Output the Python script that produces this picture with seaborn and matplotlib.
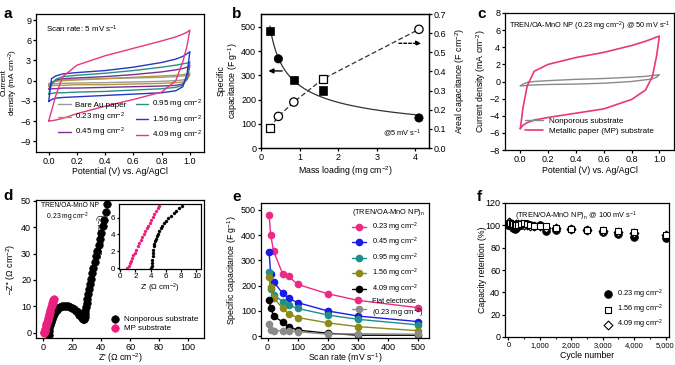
import numpy as np
import pandas as pd
import matplotlib
matplotlib.use("Agg")
import matplotlib.pyplot as plt
from matplotlib.ticker import FuncFormatter, MultipleLocator
import seaborn as sns

# ---------------- data ----------------
# panel a: CV at 5 mV/s (forward branch on cv_grid, reverse branch on reversed grid)
cv_grid = [0.0, 0.02, 0.05, 0.1, 0.2, 0.4, 0.6, 0.8, 0.9, 0.95, 0.98, 1.0]
a_labels = ["Bare Au paper", "0.23 mg cm$^{-2}$", "0.45 mg cm$^{-2}$",
            "0.95 mg cm$^{-2}$", "1.56 mg cm$^{-2}$", "4.09 mg cm$^{-2}$"]
a_fwd_bare = [-0.5, -0.2, 0.0, 0.1, 0.2, 0.3, 0.4, 0.5, 0.6, 0.7, 0.75, 0.8]
a_rev_bare = [-0.5, -0.5, -0.45, -0.4, -0.35, -0.3, -0.2, -0.1, 0.0, 0.1, 0.3, 0.8]
a_fwd_023 = [-0.8, -0.3, -0.1, 0.0, 0.1, 0.3, 0.5, 0.7, 0.8, 0.9, 1.0, 1.1]
a_rev_023 = [-0.8, -0.75, -0.7, -0.7, -0.6, -0.6, -0.5, -0.4, -0.3, -0.2, 0.2, 1.1]
a_fwd_045 = [-1.3, -0.4, 0.1, 0.3, 0.4, 0.6, 0.9, 1.3, 1.6, 1.8, 2.0, 2.3]
a_rev_045 = [-1.3, -1.2, -1.2, -1.1, -1.1, -1.0, -0.9, -0.8, -0.7, -0.5, 0.2, 2.3]
a_fwd_095 = [-2.0, -0.6, 0.2, 0.6, 0.8, 1.1, 1.5, 2.0, 2.3, 2.5, 2.6, 2.8]
a_rev_095 = [-2.0, -1.9, -1.8, -1.8, -1.7, -1.6, -1.4, -1.2, -1.0, -0.7, 0.5, 2.8]
a_fwd_156 = [-3.1, 0.3, 0.7, 1.0, 1.2, 1.5, 2.0, 2.7, 3.2, 3.6, 4.0, 4.3]
a_rev_156 = [-3.1, -2.8, -2.6, -2.5, -2.4, -2.2, -2.0, -1.8, -1.5, -0.9, 1.0, 4.3]
a_fwd_409 = [-6.0, -4.5, -2.2, 0.6, 2.3, 3.7, 4.8, 5.9, 6.5, 6.9, 7.2, 7.5]
a_rev_409 = [-6.0, -5.95, -5.85, -5.6, -4.9, -3.8, -2.8, -1.7, 0.0, 2.8, 5.2, 7.5]
a_colors = ["#9a9a9a", "#b09a3c", "#7a2f95", "#2b8f7f", "#2437c8", "#e8377f"]

# panel b
b_mass = [0.23, 0.45, 0.85, 1.6, 4.09]
b_spec = [482, 368, 282, 237, 124]
b_spec_err = [12, 8, 10, 12, 5]
b_spec_marker = ["s", "o", "s", "s", "o"]
b_areal = [0.105, 0.165, 0.24, 0.36, 0.62]
b_areal_err = [0.008, 0.006, 0.008, 0.012, 0.005]
b_areal_marker = ["s", "o", "o", "s", "o"]

# panel c: CV at 50 mV/s
c_fwd_np = [-0.5, -0.3, -0.1, 0.0, 0.1, 0.25, 0.35, 0.5, 0.6, 0.7, 0.75, 0.8]
c_rev_np = [-0.5, -0.5, -0.45, -0.4, -0.35, -0.3, -0.2, 0.0, 0.2, 0.3, 0.5, 0.8]
c_fwd_mp = [-5.5, -3.0, -0.5, 1.2, 2.0, 2.8, 3.4, 4.2, 4.7, 5.0, 5.2, 5.3]
c_rev_mp = [-5.5, -5.1, -4.8, -4.5, -4.2, -3.7, -3.2, -2.1, -1.0, 0.6, 3.0, 5.3]

# panel d: Nyquist
d_np_re = [3.8, 4.0, 4.3, 4.7, 5.2, 5.8, 6.5, 7.3, 8.2, 9.2, 10.3, 11.5, 12.8, 14.1,
           15.5, 17.0, 18.5, 20.0, 21.4, 22.7, 23.9, 25.0, 25.9, 26.7, 27.3, 27.8,
           28.2, 28.5, 28.8, 29.1, 29.5, 30.0, 30.5, 31.1, 31.7, 32.4, 33.1, 33.9,
           34.7, 35.5, 36.4, 37.3, 38.2, 39.2, 40.2, 41.2, 42.2, 43.2, 44.0]
d_np_im = [-0.8, 0.5, 1.8, 3.0, 4.2, 5.3, 6.3, 7.2, 8.0, 8.7, 9.3, 9.7, 10.0, 10.2,
           10.2, 10.1, 9.9, 9.5, 9.0, 8.4, 7.7, 6.9, 6.2, 5.6, 5.2, 5.1,
           5.3, 6.0, 7.0, 8.2, 9.6, 11.2, 12.8, 14.6, 16.4, 18.4, 20.4, 22.5,
           24.6, 26.7, 28.9, 31.1, 33.3, 35.6, 37.9, 40.3, 42.9, 45.8, 48.8]
d_mp_re = [0.3, 0.6, 1.0, 1.4, 1.8, 2.2, 2.6, 3.0, 3.4, 3.8, 4.2, 4.6, 5.0, 5.4,
           5.8, 6.2, 6.6, 7.0, 7.4]
d_mp_im = [0.0, 0.3, 0.8, 1.6, 2.4, 3.2, 4.0, 4.8, 5.6, 6.4, 7.2, 8.0, 8.8, 9.6,
           10.4, 11.1, 11.8, 12.4, 12.9]
d_in_np_re = [4.1, 4.13, 4.16, 4.2, 4.25, 4.3, 4.36, 4.43, 4.5, 4.6, 4.7, 4.82, 4.95,
              5.1, 5.3, 5.5, 5.75, 6.0, 6.3, 6.65, 7.0, 7.35, 7.75, 8.1]
d_in_np_im = [0.0, 0.3, 0.6, 1.0, 1.4, 1.8, 2.2, 2.6, 2.9, 3.2, 3.5, 3.8, 4.1,
              4.4, 4.7, 5.0, 5.3, 5.6, 5.9, 6.2, 6.5, 6.8, 7.1, 7.4]
d_in_mp_re = [0.95, 1.1, 1.25, 1.4, 1.55, 1.7, 1.9, 2.1, 2.3, 2.5, 2.7, 2.9, 3.1,
              3.3, 3.5, 3.7, 3.9, 4.1, 4.3, 4.5, 4.7, 4.9, 5.1]
d_in_mp_im = [0.0, 0.3, 0.6, 0.9, 1.2, 1.5, 1.8, 2.2, 2.6, 3.0, 3.35, 3.7, 4.0,
              4.35, 4.7, 5.05, 5.4, 5.75, 6.1, 6.45, 6.8, 7.1, 7.4]

# panel e
e_rate = [5, 10, 20, 50, 70, 100, 200, 300, 500]
e_labels = ["0.23 mg cm$^{-2}$", "0.45 mg cm$^{-2}$", "0.95 mg cm$^{-2}$",
            "1.56 mg cm$^{-2}$", "4.09 mg cm$^{-2}$", "Flat electrode\n(0.23 mg cm$^{-2}$)"]
e_023 = [480, 402, 336, 247, 237, 205, 168, 142, 113]
e_045 = [333, 248, 215, 170, 150, 133, 100, 80, 58]
e_095 = [255, 185, 165, 137, 123, 110, 84, 67, 45]
e_156 = [233, 194, 152, 110, 88, 74, 53, 38, 22]
e_409 = [145, 113, 80, 56, 38, 24, 12, 4, 4]
e_flat = [50, 24, 22, 22, 20, 18, 8, 10, 8]
e_colors = ["#ec2a84", "#1a1ae6", "#1f8f8a", "#8c8a1a", "#000000", "#8a8a8a"]

# panel f
f_cycle = [0, 25, 50, 100, 150, 200, 250, 300, 400, 500, 600, 700, 800, 1000,
           1200, 1500, 2000, 2500, 3000, 3500, 4000, 5000]
f_023 = [100, 101, 100, 99, 98, 97, 98, 99, 100, 101, 101, 100, 99, 100,
         95, 96, 97, 96, 94, 92, 90, 89]
f_156 = [100, 101, 102, 101, 101, 100, 100, 100, 101, 102, 101, 100, 99, 99,
         99, 98, 97, 96, 96, 95, 94, 91]
f_409 = [101, 103, 102, 101, 100, 100, 101, 101, 101, 100, 100, 99, 99, 99,
         98, 98, 97, 96, 95, 94, 93, 91]

# ---------------- style ----------------
sns.set_theme(style="ticks")
plt.rcParams.update({
    "font.family": ["Liberation Sans", "DejaVu Sans"],
    "mathtext.fontset": "custom",
    "mathtext.rm": "Liberation Sans",
    "mathtext.it": "Liberation Sans:italic",
    "mathtext.bf": "Liberation Sans:bold",
    "mathtext.default": "regular",
    "font.size": 6.3, "axes.labelsize": 6.3, "xtick.labelsize": 6.5, "ytick.labelsize": 6.5,
    "axes.linewidth": 0.9, "xtick.major.width": 0.9, "ytick.major.width": 0.9,
    "xtick.major.size": 2.2, "ytick.major.size": 2.2,
    "xtick.minor.size": 1.3, "xtick.minor.width": 0.7,
    "xtick.direction": "out", "ytick.direction": "out",
    "axes.edgecolor": "black", "xtick.color": "black", "ytick.color": "black",
    "axes.labelcolor": "black", "text.color": "black",
    "axes.labelpad": 2, "xtick.major.pad": 1.3, "ytick.major.pad": 1.3,
    "legend.fontsize": 6,
})

W, H = 675, 365
fig = plt.figure(figsize=(W / 100, H / 100), dpi=100)


def add_ax(l, r, t, b):
    return fig.add_axes([l / W, (H - b) / H, (r - l) / W, (b - t) / H])


def place_labels(ax, l, r, t, b, ylab_px, xlab_px):
    # ylab_px: x pixel of the right edge of the y label; xlab_px: y pixel of top of x label
    ax.yaxis.set_label_coords((ylab_px - l) / (r - l), 0.5)
    ax.xaxis.set_label_coords(0.5, (b - xlab_px) / (b - t))


def cv_frame(fwd, rev):
    v = list(cv_grid) + list(reversed(cv_grid))
    i = list(fwd) + list(reversed(rev))
    return pd.DataFrame({"V": v, "I": i})


# ---------------- panel a ----------------
pa = (36, 204, 14, 152)
ax = add_ax(*pa)
a_series = [(a_fwd_bare, a_rev_bare), (a_fwd_023, a_rev_023), (a_fwd_045, a_rev_045),
            (a_fwd_095, a_rev_095), (a_fwd_156, a_rev_156), (a_fwd_409, a_rev_409)]
for (fw, rv), lab, col in zip(a_series, a_labels, a_colors):
    sns.lineplot(data=cv_frame(fw, rv), x="V", y="I", sort=False, estimator=None,
                 color=col, lw=1.0, label=lab, ax=ax)
ax.set_xlim(-0.09, 1.1)
ax.set_ylim(-10.6, 9.9)
ax.set_xticks([0.0, 0.2, 0.4, 0.6, 0.8, 1.0])
ax.set_yticks([-9, -6, -3, 0, 3, 6, 9])
ax.set_xlabel("Potential (V) vs. Ag/AgCl")
ax.set_ylabel("Current\ndensity (mA cm$^{-2}$)", linespacing=0.95, fontsize=5.9)
place_labels(ax, *pa, 20.5, 167)
ax.text(0.06, 0.93, "Scan rate: 5 mV s$^{-1}$", transform=ax.transAxes, fontsize=5.8, va="top")
ax.legend(ncol=2, loc="lower center", frameon=False, fontsize=5.8, handlelength=1.6,
          columnspacing=1.2, labelspacing=0.25, handletextpad=0.5,
          bbox_to_anchor=(0.56, 0.02))

# ---------------- panel b ----------------
pb = (261, 429, 14, 148)
ax = add_ax(*pb)
ax2 = ax.twinx()
ax.errorbar(b_mass, b_spec, yerr=b_spec_err, fmt="none", ecolor="black", elinewidth=0.8,
            capsize=1.5, zorder=3)
coef = np.polyfit(np.log(b_mass), np.log(b_spec), 1)
xs = np.linspace(min(b_mass), max(b_mass), 200)
sns.lineplot(x=xs, y=np.exp(np.polyval(coef, np.log(xs))), color="#333333", lw=0.9, ax=ax)
dfb = pd.DataFrame({"m": b_mass, "s": b_spec, "mk": b_spec_marker})
sns.scatterplot(data=dfb, x="m", y="s", style="mk", markers={"s": "s", "o": "o"},
                color="black", edgecolor="black", s=36, legend=False, ax=ax, zorder=4)
ax2.errorbar(b_mass, b_areal, yerr=b_areal_err, fmt="none", ecolor="black", elinewidth=0.8,
             capsize=1.5, zorder=3)
sns.lineplot(x=b_mass, y=b_areal, color="#333333", lw=0.9, linestyle=(0, (4, 2)), ax=ax2)
dfa = pd.DataFrame({"m": b_mass, "a": b_areal, "mk": b_areal_marker})
sns.scatterplot(data=dfa, x="m", y="a", style="mk", markers={"s": "s", "o": "o"},
                facecolor="white", edgecolor="black", linewidth=0.9, s=36, legend=False,
                ax=ax2, zorder=4)
ax.set_xlim(0, 4.35)
ax.set_ylim(0, 553)
ax2.set_ylim(0, 0.7)
ax.set_xticks([0, 1, 2, 3, 4])
ax.set_yticks([0, 100, 200, 300, 400, 500])
ax2.set_yticks([0.0, 0.1, 0.2, 0.3, 0.4, 0.5, 0.6, 0.7])
ax2.yaxis.set_major_formatter(FuncFormatter(lambda v, p: f"{v:.1f}"))
ax.set_xlabel("Mass loading (mg cm$^{-2}$)")
ax.set_ylabel("Specific\ncapacitance (F g$^{-1}$)", linespacing=1.0)
place_labels(ax, *pb, 239.5, 164)
ax2.set_ylabel("Areal capacitance (F cm$^{-2}$)")
ax2.yaxis.set_label_coords((453 - 261) / 168, 0.5)
ax.annotate("", xy=(0.12, 318), xytext=(0.62, 318),
            arrowprops=dict(arrowstyle="-|>", color="black", lw=1.0, mutation_scale=7))
ax2.annotate("", xy=(4.22, 0.547), xytext=(3.5, 0.547),
             arrowprops=dict(arrowstyle="-|>", color="black", lw=1.0, linestyle=(0, (2, 1.5)),
                             mutation_scale=7))
ax.text(3.15, 50, "@5 mV s$^{-1}$", fontsize=5.3)

# ---------------- panel c ----------------
pc = (505, 674, 13, 150)
ax = add_ax(*pc)
sns.lineplot(data=cv_frame(c_fwd_np, c_rev_np), x="V", y="I", sort=False, estimator=None,
             color="#8a8a8a", lw=1.0, label="Nonporous substrate", ax=ax)
sns.lineplot(data=cv_frame(c_fwd_mp, c_rev_mp), x="V", y="I", sort=False, estimator=None,
             color="#e8377f", lw=1.2, label="Metallic paper (MP) substrate", ax=ax)
ax.set_xlim(-0.11, 1.105)
ax.set_ylim(-8, 8)
ax.set_xticks([0.0, 0.2, 0.4, 0.6, 0.8, 1.0])
ax.set_yticks([-8, -6, -4, -2, 0, 2, 4, 6, 8])
ax.set_xlabel("Potential (V) vs. Ag/AgCl")
ax.set_ylabel("Current density (mA cm$^{-2}$)")
place_labels(ax, *pc, 488, 166)
ax.text(0.5, 0.95, "TREN/OA-MnO NP (0.23 mg cm$^{-2}$) @ 50 mV s$^{-1}$",
        transform=ax.transAxes, ha="center", va="top", fontsize=5.3)
ax.legend(loc="lower center", frameon=False, fontsize=5.8, handlelength=2.2,
          labelspacing=0.2, bbox_to_anchor=(0.5, 0.06))

# ---------------- panel d ----------------
pd_ = (36, 204, 200, 338)
ax = add_ax(*pd_)
sns.scatterplot(x=d_np_re, y=d_np_im, color="black", edgecolor="black", s=30,
                label="Nonporous substrate", ax=ax, zorder=3)
sns.scatterplot(x=d_mp_re, y=d_mp_im, color="#ec1f7f", edgecolor="#ec1f7f", s=30,
                label="MP substrate", ax=ax, zorder=3)
ax.set_xlim(-5, 111)
ax.set_ylim(-2, 50.3)
ax.set_xticks([0, 20, 40, 60, 80, 100])
ax.set_yticks([0, 10, 20, 30, 40, 50])
ax.set_xlabel("Z' (\u03a9 cm$^{-2}$)")
ax.set_ylabel("\u2013Z'' (\u03a9 cm$^{-2}$)")
place_labels(ax, *pd_, 18, 351)
ax.text(0.03, 0.985, "TREN/OA-MnO NP\n   0.23 mg cm$^{-2}$", transform=ax.transAxes,
        va="top", fontsize=4.9, linespacing=1.15)
ax.legend(loc="lower right", frameon=False, fontsize=5.8, handletextpad=0.1,
          labelspacing=0.2, borderaxespad=0.3)
axi = add_ax(119, 201, 204, 269)
sns.scatterplot(x=d_in_np_re, y=d_in_np_im, color="black", edgecolor="black", s=5, ax=axi)
sns.scatterplot(x=d_in_mp_re, y=d_in_mp_im, color="#ec1f7f", edgecolor="#ec1f7f", s=5, ax=axi)
axi.set_xlim(-0.15, 10.6)
axi.set_ylim(-0.1, 7.6)
axi.set_xticks([0, 2, 4, 6, 8, 10])
axi.set_yticks([0, 2, 4, 6])
axi.tick_params(labelsize=5.8, length=1.8, pad=1)
axi.set_xlabel("Z' (\u03a9 cm$^{-2}$)", fontsize=5.6, labelpad=1)
axi.set_ylabel("\u2013Z'' (\u03a9 cm$^{-2}$)", fontsize=5.6, labelpad=1)

# ---------------- panel e ----------------
pe = (261, 429, 203, 338)
ax = add_ax(*pe)
for vals, lab, col in zip([e_023, e_045, e_095, e_156, e_409, e_flat], e_labels, e_colors):
    sns.lineplot(x=e_rate, y=vals, color=col, lw=1.0, marker="o", markersize=5.5,
                 markeredgewidth=0, label=lab, ax=ax)
ax.set_xlim(-22, 537)
ax.set_ylim(-7, 527)
ax.set_xticks([0, 100, 200, 300, 400, 500])
ax.set_yticks([0, 100, 200, 300, 400, 500])
ax.set_xlabel("Scan rate (mV s$^{-1}$)")
ax.set_ylabel("Specific capacitance (F g$^{-1}$)")
place_labels(ax, *pe, 239, 351)
ax.legend(loc="upper right", frameon=False, fontsize=5.3, title="(TREN/OA-MnO NP)$_n$",
          title_fontsize=5.3, handlelength=2.0, labelspacing=0.3, borderaxespad=0.2,
          alignment="left")

# ---------------- panel f ----------------
pf = (505, 669, 203, 337)
ax = add_ax(*pf)
sns.scatterplot(x=f_cycle, y=f_023, marker="o", color="black", edgecolor="black", s=32,
                label="0.23 mg cm$^{-2}$", ax=ax, zorder=3)
sns.scatterplot(x=f_cycle, y=f_409, marker="D", facecolor="white", edgecolor="black",
                linewidth=0.8, s=20, label="4.09 mg cm$^{-2}$", ax=ax, zorder=4)
sns.scatterplot(x=f_cycle, y=f_156, marker="s", facecolor="white", edgecolor="black",
                linewidth=0.8, s=24, label="1.56 mg cm$^{-2}$", ax=ax, zorder=4)
ax.set_xlim(-110, 5110)
ax.set_ylim(0, 120)
ax.set_xticks([0, 1000, 2000, 3000, 4000, 5000])
ax.xaxis.set_minor_locator(MultipleLocator(500))
ax.set_yticks([0, 20, 40, 60, 80, 100, 120])
ax.xaxis.set_major_formatter(FuncFormatter(lambda v, p: f"{int(v):,}"))
ax.tick_params(axis="x", labelsize=5.4)
ax.set_xlabel("Cycle number")
ax.set_ylabel("Capacity retention (%)")
place_labels(ax, *pf, 487, 351)
ax.text(0.06, 0.95, "(TREN/OA-MnO NP)$_n$ @ 100 mV s$^{-1}$", transform=ax.transAxes,
        va="top", fontsize=5.3)
h, l = ax.get_legend_handles_labels()
order = [0, 2, 1]
ax.legend([h[i] for i in order], [l[i] for i in order], loc="lower right", frameon=False,
          fontsize=5.3, handletextpad=0.2, labelspacing=0.25, borderaxespad=0.4)

# panel letters
for letter, x, y in [("a", 3, 14), ("b", 232, 14), ("c", 477, 14),
                     ("d", 3, 196), ("e", 232, 197), ("f", 477, 197)]:
    fig.text(x / W, 1 - y / H, letter, fontsize=11, fontweight="bold", va="center", ha="left")

fig.savefig("out.png", dpi=100)
